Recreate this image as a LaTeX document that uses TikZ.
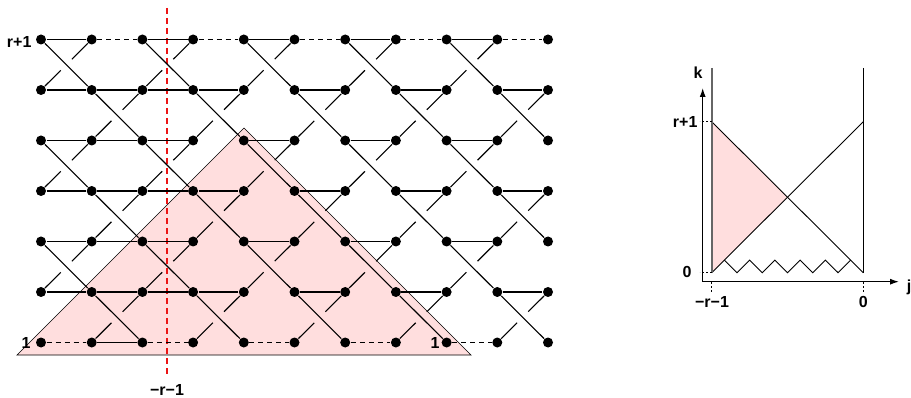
\documentclass[tikz,border=0pt]{standalone}
\usepackage{fontspec}
\setmainfont{Liberation Sans}
\usetikzlibrary{arrows.meta,calc}

\definecolor{lightpink}{RGB}{255,222,222}
\definecolor{cutred}{RGB}{235,20,20}
\tikzset{dot/.style={circle,fill=black,inner sep=0pt,minimum size=10pt},
  lbl/.style={font=\bfseries\fontsize{16}{18}\selectfont,inner sep=1pt},
  dsh/.style={dash pattern=on 5pt off 4pt},
  tick/.style={dash pattern=on 2pt off 2pt,line width=.8pt}}

\begin{document}
\begin{tikzpicture}[x=1pt,y=-1pt,line width=1.1pt]
\useasboundingbox (0,0) rectangle (911,398);
% left: lattice
\fill[lightpink] (17,355)--(244,128)--(471,355)--cycle;
\draw[line width=.7pt] (17,355)--(244,128)--(471,355)--cycle;
\draw[draw=cutred,dash pattern=on 6pt off 4pt,line width=1.3pt] (167,8)--(167,377);
\foreach \c in {0,...,10}{\foreach \r in {0,...,6}{\node[dot] (p\c-\r) at ({41+50.7*\c},{39.5+50.5*\r}) {};}}
\foreach \c [evaluate=\c as \d using int(\c+1)] in {0,...,9}{
  \foreach \r [evaluate=\r as \s using int(\r+1)] in {0,...,5}{
    \ifodd\numexpr\c+\r\relax\else
      \draw (p\c-\r)--(p\d-\s);
      \draw (p\c-\s)--($(p\c-\s)!.39!(p\d-\r)$) ($(p\c-\s)!.61!(p\d-\r)$)--(p\d-\r);
    \fi}}
\foreach \c/\d in {0/1,2/3,4/5,6/7,8/9}{\draw (p\c-0)--(p\d-0);\draw[dsh] (p\c-6)--(p\d-6);}
\foreach \c/\d in {1/2,3/4,5/6,7/8,9/10}{\draw[dsh] (p\c-0)--(p\d-0);}
\foreach \r in {1,3,5}{\foreach \c/\d in {0/1,1/2,2/3,3/4,5/6,7/8,9/10}{\draw (p\c-\r)--(p\d-\r);}}
\foreach \r in {2,4}{\foreach \c/\d in {0/1,1/2,2/3,4/5,6/7,8/9}{\draw (p\c-\r)--(p\d-\r);}}
\draw (p1-6)--(p2-6);
\node[lbl,anchor=east] (top) at (33,42) {r+1};
\node[lbl,anchor=east] (one) at (32,343) {1};
\node[lbl,anchor=east] (oneb) at (441,343) {1};
\node[lbl] (cut) at (167,390) {−r−1};
% right: sketch
\coordinate (o) at (702.7,281.7);
\coordinate (ktip) at (702.7,88);
\coordinate (jtip) at (899,281.7);
\coordinate (a1) at (711.7,121.7);
\coordinate (a0) at (711.7,272.7);
\coordinate (b1) at (863.3,121.7);
\coordinate (b0) at (863.3,272.7);
\coordinate (m) at (787.5,197.2);
\coordinate (at) at (711.7,68);
\coordinate (bt) at (863.3,68);
\fill[lightpink] (a1)--(m)--(a0)--cycle;
\draw[line width=.9pt] (a1)--(b0);
\draw[line width=.9pt] (a0)--(b1);
\draw[black!60,line width=1.8pt] (at)--(a0);
\draw[line width=.9pt] (bt)--(b0);
\draw[line width=.9pt] ($(a0)+(12.6,-12.6)$) \foreach \i in {1,...,5}{-- ++(12.64,12.6) -- ++(12.64,-12.6)};
\draw[-{Latex[length=9pt,width=6pt]}] (o)--(ktip);
\draw[-{Latex[length=9pt,width=6pt]}] (o)--(jtip);
\draw[tick] (a1)--++(-12,0);
\draw[tick] (a0)--++(-12,0);
\draw[tick] (711.7,282)--++(0,11);
\draw[tick] (863.3,282)--++(0,11);
\node[lbl] (k) at (698,73) {k};
\node[lbl] (j) at (909,287) {j};
\node[lbl,anchor=east] (kr) at (699,122) {r+1};
\node[lbl,anchor=east] (k0) at (693,272) {0};
\node[lbl] (jr) at (712,302) {−r−1};
\node[lbl] (j0) at (863.3,302) {0};
\end{tikzpicture}
\end{document}
